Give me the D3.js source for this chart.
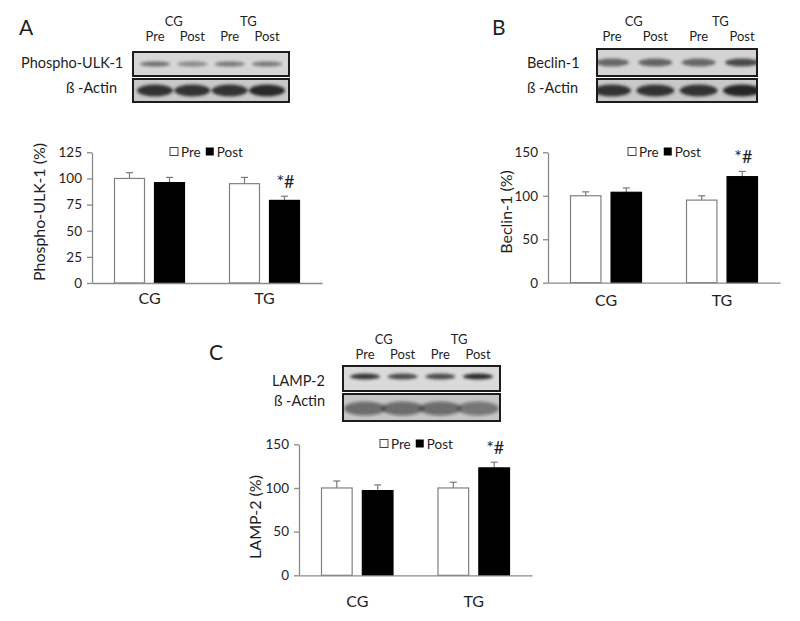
<!DOCTYPE html>
<html>
<head>
<meta charset="utf-8">
<script src="https://cdn.jsdelivr.net/npm/d3@7"></script>
<style>
  html, body { margin: 0; padding: 0; background: #fff; }
  svg { display: block; font-family: Lato, "Open Sans", sans-serif; }
</style>
</head>
<body>
<svg id="chart" width="800" height="621"></svg>
<script>
// ---------------- DATA ----------------
const categories = ["CG", "TG"];
const series = ["Pre", "Post"];

// Panel A: Phospho-ULK-1 (%)
const ulkPre = [100, 95];
const ulkPost = [96, 79];
const ulkPreErr = [5.5, 6];
const ulkPostErr = [5, 4];
const ulkPostSig = ["", "*#"];
const ticksA = [0, 25, 50, 75, 100, 125];

// Panel B: Beclin-1 (%)
const beclinPre = [100, 95];
const beclinPost = [104, 122];
const beclinPreErr = [4.5, 5];
const beclinPostErr = [5, 6];
const beclinPostSig = ["", "*#"];
const ticksB = [0, 50, 100, 150];

// Panel C: LAMP-2 (%)
const lampPre = [100, 100];
const lampPost = [97, 123];
const lampPreErr = [8, 6.5];
const lampPostErr = [6.5, 6.5];
const lampPostSig = ["", "*#"];
const ticksC = [0, 50, 100, 150];

// Western blot lanes and approximate band intensities (0-1)
const laneLabels = ["Pre", "Post", "Pre", "Post"];
const ulkBands = [0.55, 0.42, 0.5, 0.5];
const actinBandsA = [0.85, 0.85, 0.85, 0.9];
const beclinBands = [0.6, 0.62, 0.6, 0.75];
const actinBandsB = [0.85, 0.85, 0.85, 0.92];
const lampBands = [0.85, 0.75, 0.75, 0.9];
const actinBandsC = [0.5, 0.5, 0.5, 0.45];

// ---------------- DRAWING ----------------
const svg = d3.select("#chart");
const defs = svg.append("defs");
defs.append("filter").attr("id", "blur").attr("x", "-30%").attr("y", "-100%")
  .attr("width", "160%").attr("height", "300%")
  .append("feGaussianBlur").attr("stdDeviation", 1.6);

const TXT = "#1e1e1e";
const AX = "#8a8a8a";
let clipId = 0;

function panelLetter(letter, x, y) {
  svg.append("text").attr("x", x).attr("y", y).attr("font-size", 21)
    .attr("fill", TXT).text(letter);
}

function blot(cfg) {
  const g = svg.append("g");
  const lane = d3.scalePoint().domain(d3.range(laneLabels.length))
    .range([cfg.x + cfg.lanePad, cfg.x + cfg.w - cfg.lanePad]);
  const groupCenters = categories.map((c, i) => (lane(i * 2) + lane(i * 2 + 1)) / 2);
  g.selectAll(".grp").data(categories).join("text")
    .attr("x", (d, i) => groupCenters[i]).attr("y", cfg.grpY)
    .attr("text-anchor", "middle").attr("font-size", 13).attr("fill", TXT).text(d => d);
  g.selectAll(".lane").data(laneLabels).join("text")
    .attr("x", (d, i) => lane(i)).attr("y", cfg.laneY)
    .attr("text-anchor", "middle").attr("font-size", 13).attr("fill", TXT).text(d => d);

  cfg.rows.forEach(r => {
    const rg = g.append("g");
    const id = "clip" + (clipId++);
    defs.append("clipPath").attr("id", id).append("rect")
      .attr("x", cfg.x).attr("y", r.y).attr("width", cfg.w).attr("height", r.h);
    rg.append("rect").attr("x", cfg.x).attr("y", r.y).attr("width", cfg.w).attr("height", r.h)
      .attr("fill", r.bg);
    rg.append("g").attr("clip-path", `url(#${id})`).append("g").attr("filter", "url(#blur)")
      .selectAll("ellipse").data(r.bands).join("ellipse")
      .attr("cx", (d, i) => lane(i)).attr("cy", r.y + r.h / 2 + (r.dy || 0))
      .attr("rx", r.bw / 2).attr("ry", r.bh / 2)
      .attr("fill", "#1a1a1a").attr("fill-opacity", d => d);
    rg.append("rect").attr("x", cfg.x).attr("y", r.y).attr("width", cfg.w).attr("height", r.h)
      .attr("fill", "none").attr("stroke", "#1c1c1c").attr("stroke-width", 2);
    rg.append("text").attr("x", r.labelX).attr("y", r.labelY)
      .attr("text-anchor", r.anchor || "start").attr("font-size", 14.5).attr("fill", TXT)
      .text(r.label);
  });
}

function barChart(cfg) {
  const g = svg.append("g");
  const x = d3.scaleBand().domain(categories).range([cfg.x0, cfg.x1]).padding(0);
  const inner = d3.scaleBand().domain(series).range([22, x.bandwidth() - 22]).paddingInner(0.225).paddingOuter(0);
  const y = d3.scaleLinear().domain([0, cfg.ticks[cfg.ticks.length - 1]]).range([cfg.yBottom, cfg.yTop]);

  const rows = [];
  categories.forEach((c, i) => {
    rows.push({ c, s: "Pre", v: cfg.pre[i], e: cfg.preErr[i], sig: "" });
    rows.push({ c, s: "Post", v: cfg.post[i], e: cfg.postErr[i], sig: cfg.sig[i] });
  });
  const bx = d => x(d.c) + inner(d.s);

  const eg = g.append("g").attr("stroke", "#7a7a7a").attr("stroke-width", 1.2);
  rows.forEach(d => {
    const cx = bx(d) + inner.bandwidth() / 2;
    eg.append("line").attr("x1", cx).attr("x2", cx).attr("y1", y(d.v)).attr("y2", y(d.v + d.e));
    eg.append("line").attr("x1", cx - 3.5).attr("x2", cx + 3.5).attr("y1", y(d.v + d.e)).attr("y2", y(d.v + d.e));
  });

  g.selectAll(".bar").data(rows).join("rect")
    .attr("x", d => bx(d) + 0.5).attr("y", d => y(d.v))
    .attr("width", inner.bandwidth() - 1).attr("height", d => y(0) - y(d.v))
    .attr("fill", d => d.s === "Pre" ? "#fff" : "#000")
    .attr("stroke", d => d.s === "Pre" ? "#808080" : "#000").attr("stroke-width", 1.2);

  g.selectAll(".sig").data(rows.filter(d => d.sig)).join("text")
    .attr("x", d => bx(d) + inner.bandwidth() / 2 + 1).attr("y", d => y(d.v + d.e) - 8)
    .attr("text-anchor", "middle").attr("font-size", 18).attr("fill", TXT).text(d => d.sig);

  const ya = g.append("g").attr("transform", `translate(${cfg.x0},0)`)
    .call(d3.axisLeft(y).tickValues(cfg.ticks).tickSize(5).tickSizeOuter(0).tickPadding(5));
  ya.select(".domain").attr("stroke", AX).attr("stroke-width", 1.3);
  ya.selectAll(".tick line").attr("stroke", AX).attr("stroke-width", 1.3);
  ya.selectAll(".tick text").attr("font-size", 13.5).attr("fill", TXT).attr("font-family", "Lato, sans-serif");

  const xa = g.append("g").attr("transform", `translate(0,${y(0)})`)
    .call(d3.axisBottom(x).tickSize(0).tickSizeOuter(0).tickPadding(cfg.catPad));
  xa.select(".domain").attr("stroke", AX).attr("stroke-width", 1.3);
  xa.selectAll(".tick text").attr("font-size", 16).attr("fill", TXT).attr("font-family", "Lato, sans-serif");

  g.append("text").attr("transform", `translate(${cfg.labelX},${cfg.labelY}) rotate(-90)`)
    .attr("text-anchor", "middle").attr("dominant-baseline", "central")
    .attr("font-size", 16).attr("fill", TXT).text(cfg.yLabel);

  const lg = g.append("g").attr("transform", `translate(${cfg.legX},${cfg.legY})`);
  lg.append("rect").attr("x", 0).attr("y", -4.5).attr("width", 8).attr("height", 8)
    .attr("fill", "#fff").attr("stroke", "#444").attr("stroke-width", 1);
  const t1 = lg.append("text").attr("x", 11).attr("y", 5).attr("font-size", 13.5).attr("fill", TXT).text(series[0]);
  const w1 = t1.node().getComputedTextLength();
  lg.append("rect").attr("x", 11 + w1 + 5).attr("y", -4.5).attr("width", 8).attr("height", 8).attr("fill", "#000");
  lg.append("text").attr("x", 11 + w1 + 16).attr("y", 5).attr("font-size", 13.5).attr("fill", TXT).text(series[1]);
}

// ---- Panel A ----
panelLetter("A", 19, 35);
blot({
  x: 133, w: 156, lanePad: 22, grpY: 26, laneY: 41,
  rows: [
    { y: 52, h: 24, bg: "#d6d6d6", bands: ulkBands, bw: 30, bh: 5, dy: 0, label: "Phospho-ULK-1", labelX: 21, labelY: 68 },
    { y: 79, h: 23, bg: "#c9c9c9", bands: actinBandsA, bw: 36, bh: 12, dy: 0, label: "ß -Actin", labelX: 117, labelY: 93, anchor: "end" }
  ]
});
barChart({
  x0: 92, x1: 322, yBottom: 283, yTop: 152.3, ticks: ticksA,
  pre: ulkPre, post: ulkPost, preErr: ulkPreErr, postErr: ulkPostErr, sig: ulkPostSig,
  yLabel: "Phospho-ULK-1 (%)", labelX: 38, labelY: 212, legX: 170, legY: 152, catPad: 10
});

// ---- Panel B ----
panelLetter("B", 492, 35);
blot({
  x: 597, w: 160, lanePad: 15, grpY: 26, laneY: 41,
  rows: [
    { y: 49, h: 27, bg: "#d4d4d4", bands: beclinBands, bw: 34, bh: 8, dy: 0, label: "Beclin-1", labelX: 527, labelY: 68 },
    { y: 79, h: 23, bg: "#c8c8c8", bands: actinBandsB, bw: 38, bh: 12, dy: 0, label: "ß -Actin", labelX: 527, labelY: 93 }
  ]
});
barChart({
  x0: 548, x1: 780, yBottom: 282.7, yTop: 152.3, ticks: ticksB,
  pre: beclinPre, post: beclinPost, preErr: beclinPreErr, postErr: beclinPostErr, sig: beclinPostSig,
  yLabel: "Beclin-1 (%)", labelX: 505, labelY: 212, legX: 628, legY: 152, catPad: 12
});

// ---- Panel C ----
panelLetter("C", 209, 360);
blot({
  x: 343, w: 157, lanePad: 22, grpY: 344, laneY: 359,
  rows: [
    { y: 366, h: 25, bg: "#dadada", bands: lampBands, bw: 30, bh: 6, dy: -2, label: "LAMP-2", labelX: 272, labelY: 386 },
    { y: 394, h: 27, bg: "#c6c6c6", bands: actinBandsC, bw: 42, bh: 14, dy: 1, label: "ß -Actin", labelX: 274, labelY: 406 }
  ]
});
barChart({
  x0: 299, x1: 532, yBottom: 575.3, yTop: 444.3, ticks: ticksC,
  pre: lampPre, post: lampPost, preErr: lampPreErr, postErr: lampPostErr, sig: lampPostSig,
  yLabel: "LAMP-2 (%)", labelX: 254, labelY: 517, legX: 380, legY: 444, catPad: 20
});
</script>
</body>
</html>
